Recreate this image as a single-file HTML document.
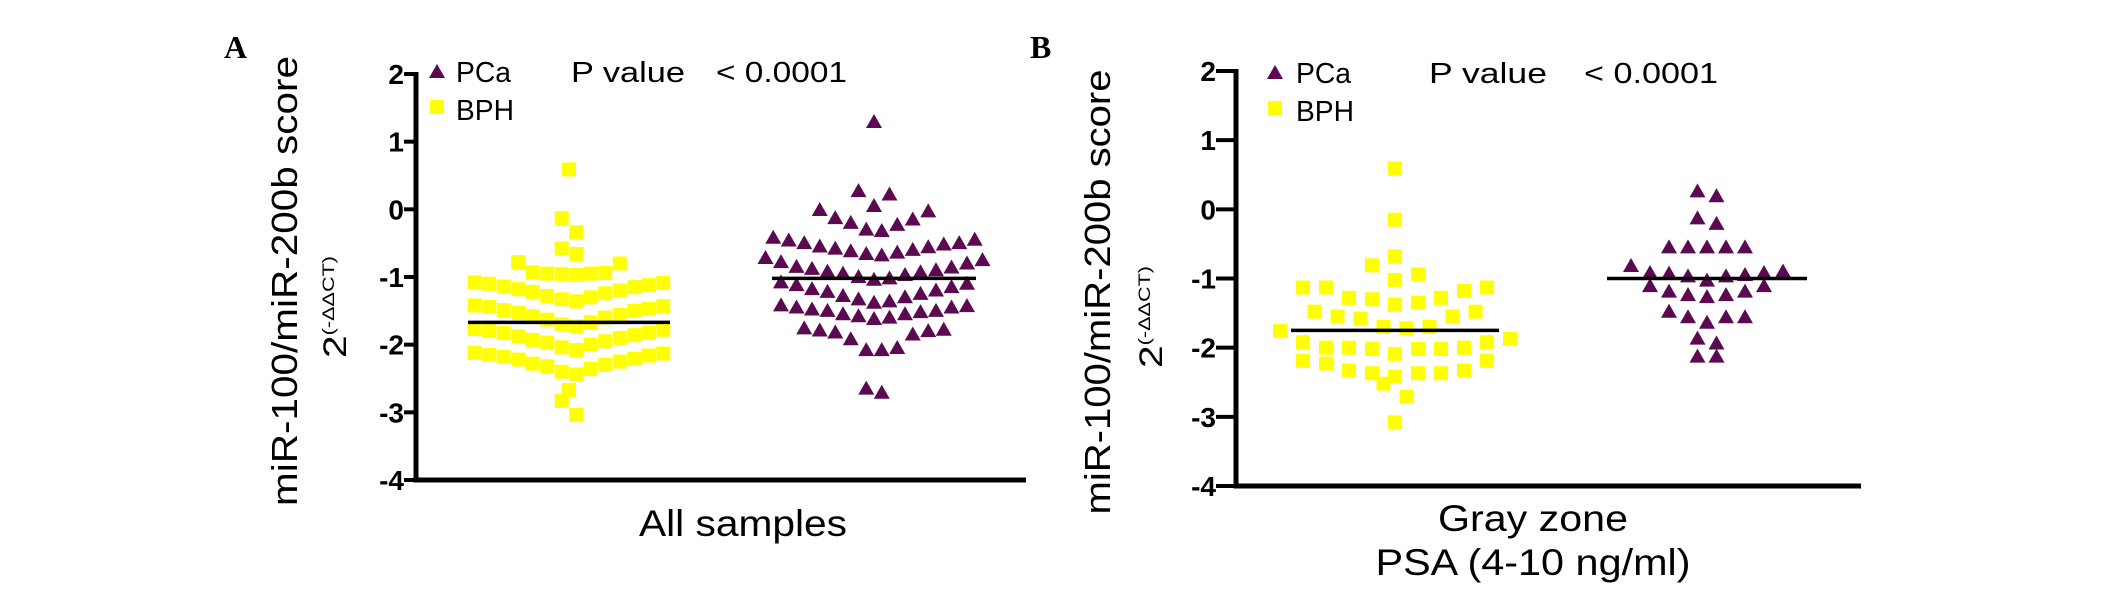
<!DOCTYPE html>
<html><head><meta charset="utf-8">
<style>
html,body{margin:0;padding:0;background:#fff;}
svg{display:block;}
text{font-family:"Liberation Sans",Arial,sans-serif;}
</style></head>
<body>
<svg id="fig" width="2126" height="594" viewBox="0 0 2126 594" xmlns="http://www.w3.org/2000/svg">
  <text x="224" y="58" style="font-family:'Liberation Serif',serif;font-weight:bold;font-size:32px">A</text>
  <text x="1030" y="58" style="font-family:'Liberation Serif',serif;font-weight:bold;font-size:32px">B</text>

  <g>
    <text transform="translate(297,281) rotate(-90)" text-anchor="middle" font-size="36" textLength="450" lengthAdjust="spacingAndGlyphs">miR-100/miR-200b score</text>
    <text transform="translate(346,307) rotate(-90)" text-anchor="middle" textLength="102" lengthAdjust="spacingAndGlyphs"><tspan font-size="32">2</tspan><tspan font-size="17" dy="-12">(-ΔΔCT)</tspan></text>
    <text x="743" y="536" text-anchor="middle" font-size="37" textLength="208" lengthAdjust="spacingAndGlyphs">All samples</text>
    <polygon points="437,64 429,78 445,78" fill="#5b0a52"/>
    <text x="456" y="82" font-size="29" textLength="55" lengthAdjust="spacingAndGlyphs">PCa</text>
    <rect x="430" y="100" width="14" height="14" fill="#ffff00"/>
    <text x="456" y="120" font-size="29" textLength="58" lengthAdjust="spacingAndGlyphs">BPH</text>
    <text x="571" y="82" font-size="29" textLength="114" lengthAdjust="spacingAndGlyphs">P value</text>
    <text x="716" y="82" font-size="29" textLength="131" lengthAdjust="spacingAndGlyphs">&lt; 0.0001</text>
  </g>

  <g>
    <text transform="translate(1110,292) rotate(-90)" text-anchor="middle" font-size="36" textLength="445" lengthAdjust="spacingAndGlyphs">miR-100/miR-200b score</text>
    <text transform="translate(1162,317) rotate(-90)" text-anchor="middle" textLength="102" lengthAdjust="spacingAndGlyphs"><tspan font-size="32">2</tspan><tspan font-size="17" dy="-12">(-ΔΔCT)</tspan></text>
    <text x="1533" y="531" text-anchor="middle" font-size="37" textLength="190" lengthAdjust="spacingAndGlyphs">Gray zone</text>
    <text x="1533" y="575" text-anchor="middle" font-size="37" textLength="315" lengthAdjust="spacingAndGlyphs">PSA (4-10 ng/ml)</text>
    <polygon points="1275,65 1267,79 1283,79" fill="#5b0a52"/>
    <text x="1296" y="83" font-size="29" textLength="55" lengthAdjust="spacingAndGlyphs">PCa</text>
    <rect x="1268" y="101" width="14" height="14" fill="#ffff00"/>
    <text x="1296" y="121" font-size="29" textLength="58" lengthAdjust="spacingAndGlyphs">BPH</text>
    <text x="1429" y="83" font-size="29" textLength="118" lengthAdjust="spacingAndGlyphs">P value</text>
    <text x="1584" y="83" font-size="29" textLength="134" lengthAdjust="spacingAndGlyphs">&lt; 0.0001</text>
  </g>
  <g id="plots"></g>
</svg>
<script>
// ---- data ----
const tickValues = [2, 1, 0, -1, -2, -3, -4];
const tickLabels = ["2", "1", "0", "-1", "-2", "-3", "-4"];
const groups = ["BPH", "PCa"];
const allBPH = [0.59, -0.13, -0.34, -0.58, -0.66,
  -0.78, -0.8, -0.93, -0.95, -0.95, -0.96, -0.97, -0.94,
  -1.08, -1.1, -1.12, -1.15, -1.18, -1.2, -1.24, -1.28, -1.3, -1.33, -1.36, -1.22, -1.14, -1.09,
  -1.42, -1.44, -1.47, -1.5, -1.53, -1.56, -1.6, -1.63, -1.67, -1.7, -1.73, -1.58, -1.49, -1.43,
  -1.77, -1.8, -1.83, -1.86, -1.9, -1.93, -1.97, -2.0, -2.04, -2.08, -1.95, -1.88, -1.82, -1.78,
  -2.12, -2.15, -2.18, -2.21, -2.25, -2.28, -2.32, -2.36, -2.4, -2.44, -2.3, -2.22, -2.16, -2.13,
  -2.67, -2.83, -3.04];
const allPCa = [1.29, 0.27, 0.22, 0.05,
  -0.01, -0.03, -0.13, -0.15, -0.2, -0.23, -0.3, -0.32,
  -0.42, -0.45, -0.46, -0.5, -0.5, -0.52, -0.55, -0.56, -0.58, -0.6, -0.62, -0.64, -0.66, -0.68,
  -0.72, -0.75, -0.8, -0.85, -0.88, -0.9, -0.93, -0.95, -0.97, -1.0, -1.02, -1.04, -0.92, -0.86, -0.78,
  -1.08, -1.1, -1.12, -1.15, -1.18, -1.2, -1.22, -1.25, -1.28, -1.3, -1.33, -1.36, -1.38,
  -1.42, -1.45, -1.48, -1.5, -1.52, -1.55, -1.58, -1.6, -1.62, -1.55, -1.5, -1.45, -1.43,
  -1.76, -1.78, -1.8, -1.82, -1.85, -1.92, -2.08, -2.05, -2.08, -1.79,
  -2.65, -2.71];
const grayBPH = [0.59, -0.15, -0.68, -0.81, -0.94, -1.02, -1.13, -1.13, -1.13, -1.18, -1.28, -1.28, -1.3,
  -1.35, -1.38, -1.48, -1.48, -1.55, -1.55, -1.58, -1.7, -1.7, -1.72, -1.76, -1.87, -1.92, -1.92,
  -2.0, -2.0, -2.0, -2.02, -2.02, -2.02, -2.09, -2.19, -2.19, -2.23, -2.33, -2.33, -2.37, -2.37, -2.37,
  -2.42, -2.52, -2.71, -3.08];
const grayPCa = [0.26, 0.19, -0.13, -0.21, -0.55, -0.55, -0.55, -0.55, -0.55,
  -0.82, -0.92, -0.92, -0.97, -0.97, -0.9, -0.93, -0.95, -1.03,
  -1.11, -1.11, -1.19, -1.19, -1.24, -1.24, -1.27,
  -1.48, -1.56, -1.56, -1.64, -1.56, -1.87, -1.94, -2.13, -2.13];
// group means as drawn in the figure (horizontal lines)
const meanAllBPH = -1.67;
const meanAllPCa = -1.02;
const meanGrayBPH = -1.75;
const meanGrayPCa = -1.0;

// ---- layout ----
const NS = "http://www.w3.org/2000/svg";
const root = document.getElementById("plots");
const panels = [
  {id: "a", axisX: 416, xEnd: 1026, yTop: 74, yBot: 480, tickRight: 406,
   series: [{name: "bph", vals: allBPH, mean: meanAllBPH, cx: 569, step: 14.5, half: 101},
            {name: "pca", vals: allPCa, mean: meanAllPCa, cx: 874, step: 15.5, half: 102}]},
  {id: "b", axisX: 1236, xEnd: 1861, yTop: 71, yBot: 486, tickRight: 1218,
   series: [{name: "bph", vals: grayBPH, mean: meanGrayBPH, cx: 1395, step: 23, half: 104},
            {name: "pca", vals: grayPCa, mean: meanGrayPCa, cx: 1707, step: 19, half: 100}]}
];
const vMin = -4, vMax = 2, binW = 0.35;

function mk(tag, attrs) {
  const e = document.createElementNS(NS, tag);
  for (const k in attrs) e.setAttribute(k, attrs[k]);
  return e;
}

panels.forEach(p => {
  const yScale = v => p.yBot - (v - vMin) / (vMax - vMin) * (p.yBot - p.yTop);
  const g = mk("g", {});
  
  
  root.appendChild(g);

  const yAxis = mk("line", {x1: p.axisX, y1: yScale(vMax) - 2, x2: p.axisX, y2: yScale(vMin) + 2.5, stroke: "#000", "stroke-width": 5});
  
  
  g.appendChild(yAxis);
  const xAxis = mk("line", {x1: p.axisX - 2.5, y1: yScale(vMin), x2: p.xEnd, y2: yScale(vMin), stroke: "#000", "stroke-width": 5});
  
  
  g.appendChild(xAxis);

  tickValues.forEach((t, i) => {
    const y = yScale(t);
    const tk = mk("line", {x1: p.tickRight - 2, y1: y, x2: p.axisX, y2: y, stroke: "#000", "stroke-width": 4});
    
    
    g.appendChild(tk);
    const tl = mk("text", {x: p.tickRight - 2, y: y + 10, "text-anchor": "end", "font-size": 28, "font-weight": "bold"});
    tl.textContent = tickLabels[i];
    
    
    g.appendChild(tl);
  });

  p.series.forEach(s => {
    const bins = {};
    s.vals.forEach(v => { const b = Math.floor(v / binW); (bins[b] = bins[b] || []).push(v); });
    const pts = [];
    Object.keys(bins).forEach(b => {
      const arr = bins[b].slice().sort((a, c) => a - c);
      const n = arr.length;
      const slots = [];
      for (let i = 0; i < n; i++) slots.push((i - (n - 1) / 2) * s.step);
      slots.sort((a, c) => Math.abs(a) - Math.abs(c) || c - a);
      arr.forEach((v, i) => pts.push([s.cx + slots[i], yScale(v)]));
    });
    pts.forEach(([x, y]) => {
      let m;
      if (s.name === "bph") {
        m = mk("rect", {x: x - 7, y: y - 7, width: 14, height: 14, fill: "#ffff00"});
        
      } else {
        m = mk("polygon", {points: `${x},${y - 8} ${x - 8},${y + 6} ${x + 8},${y + 6}`, fill: "#5b0a52"});
        
      }
      
      g.appendChild(m);
    });
    const ml = mk("line", {x1: s.cx - s.half, x2: s.cx + s.half, y1: yScale(s.mean), y2: yScale(s.mean), stroke: "#000", "stroke-width": 3.5});
    
    
    g.appendChild(ml);
  });
});
</script>
</body></html>
